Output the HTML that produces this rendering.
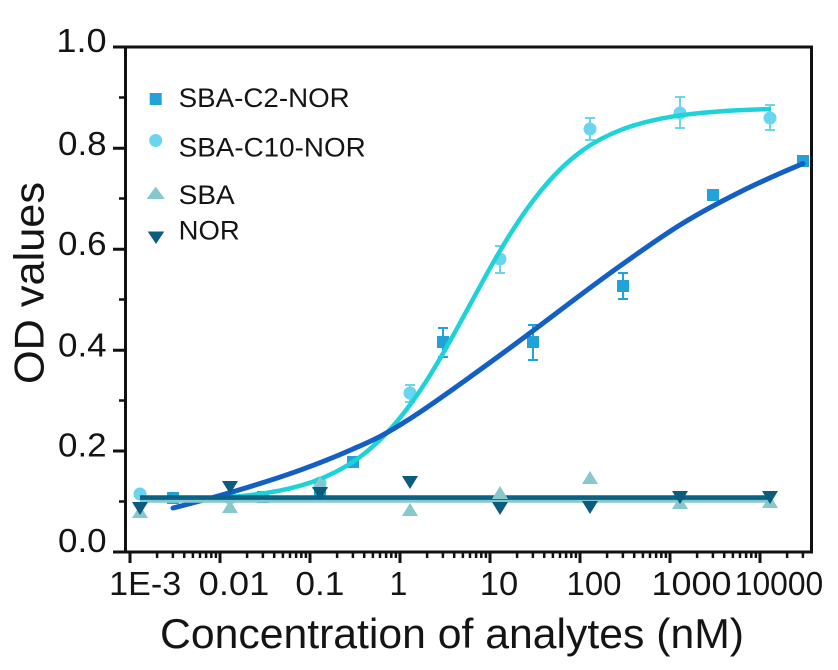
<!DOCTYPE html>
<html>
<head>
<meta charset="utf-8">
<style>
html,body{margin:0;padding:0;background:#ffffff;}
svg{display:block;}
text{font-family:"Liberation Sans",Arial,sans-serif;fill:#141414;}
</style>
</head>
<body>
<svg width="838" height="670" viewBox="0 0 838 670" xmlns="http://www.w3.org/2000/svg">
<rect x="0" y="0" width="838" height="670" fill="#ffffff"/>

<!-- ===== markers (drawn first, under lines) ===== -->
<!-- error bars C10 -->
<g stroke="#6ad5ee" stroke-width="2" fill="none">
  <path d="M410 385V402M405 385H415M405 402H415"/>
  <path d="M500 246V273M495 246H505M495 273H505"/>
  <path d="M590 118V140M585 118H595M585 140H595"/>
  <path d="M680 97V128M675 97H685M675 128H685"/>
  <path d="M770 105V130M765 105H775M765 130H775"/>
</g>
<!-- error bars C2 -->
<g stroke="#21a3da" stroke-width="2" fill="none">
  <path d="M443 328V357M438 328H448M438 357H448"/>
  <path d="M533 325V360M528 325H538M528 360H538"/>
  <path d="M623 273V299M618 273H628M618 299H628"/>
</g>

<!-- SBA-C2-NOR squares -->
<g fill="#21a3da">
  <rect x="167" y="492" width="12" height="12"/>
  <rect x="257" y="491" width="12" height="12"/>
  <rect x="314" y="486" width="12" height="12"/>
  <rect x="347" y="456" width="12" height="12"/>
  <rect x="437" y="336" width="12" height="12"/>
  <rect x="527" y="336" width="12" height="12"/>
  <rect x="617" y="280" width="12" height="12"/>
  <rect x="707" y="189" width="12" height="12"/>
  <rect x="797" y="155" width="12" height="12"/>
</g>
<!-- SBA-C10-NOR circles -->
<g fill="#6ad5ee">
  <circle cx="140" cy="494" r="6.5"/>
  <circle cx="230" cy="498" r="6.5"/>
  <circle cx="320" cy="483" r="6.5"/>
  <circle cx="410" cy="393" r="6.5"/>
  <circle cx="500" cy="259" r="6.5"/>
  <circle cx="590" cy="129" r="6.5"/>
  <circle cx="680" cy="113" r="6.5"/>
  <circle cx="770" cy="118" r="6.5"/>
</g>

<!-- ===== curves ===== -->
<path fill="none" stroke="#1dd3d8" stroke-width="4.5" stroke-linecap="round"
 d="M194.7 499.2
 C218.7 498.2 242.7 496.7 266.7 492.9
 C281.7 490.5 296.7 487.3 311.7 482.1
 C326.7 476.9 341.7 469.8 356.7 459.3
 C371.7 448.8 386.7 434.5 401.7 415.7
 C409.2 406.3 416.7 395.9 424.2 384.4
 C431.7 372.9 439.2 360.1 446.7 347.0
 C454.5 333.3 462.3 318.8 470.1 304.5
 C477.3 291.3 484.5 277.9 491.7 265.2
 C499.2 252.0 506.7 239.5 514.2 227.8
 C521.7 216.1 529.2 205.6 536.7 196.0
 C551.7 176.8 566.7 161.9 581.7 151.0
 C596.7 140.1 611.7 133.1 626.7 127.8
 C641.7 122.5 656.7 119.2 671.7 116.7
 C686.7 114.2 701.7 112.7 716.7 111.6
 C734.1 110.3 751.5 109.6 768.9 109.1"/>

<path fill="none" stroke="#135fc4" stroke-width="5" stroke-linecap="round"
 d="M173 508
 C192 503.25 211 498.1 230 492.6
 C253.3 485.8 276.7 478.6 300 470.2
 C317.7 463.8 335.3 456.8 353 449
 C362.7 444.7 372.3 440.7 382 435.4
 C409.7 420.2 437.3 400.5 465 380.6
 C486.7 365.0 508.3 349.3 530 333
 C560 310.5 590 287.3 620 266
 C640 251.8 660 237.4 680 225
 C700 212.6 720 202 740 192
 C761 181.5 782 172.4 803 163.6"/>

<!-- flat lines -->
<line x1="140" y1="500.3" x2="772" y2="500.3" stroke="#86c7cb" stroke-width="5"/>
<line x1="140" y1="497.6" x2="772" y2="497.6" stroke="#0b6287" stroke-width="4.6"/>

<!-- SBA up triangles -->
<g fill="#87c8cc">
  <polygon points="132,518 148,518 140,505"/>
  <polygon points="222,513 238,513 230,500"/>
  <polygon points="312,489 328,489 320,476"/>
  <polygon points="402,516 418,516 410,503"/>
  <polygon points="492,499 508,499 500,486"/>
  <polygon points="582,484 598,484 590,471"/>
  <polygon points="672,509 688,509 680,496"/>
  <polygon points="762,508 778,508 770,495"/>
</g>
<!-- NOR down triangles -->
<g fill="#0b5c7e">
  <polygon points="132,502 148,502 140,515"/>
  <polygon points="222,481 238,481 230,494"/>
  <polygon points="312,487 328,487 320,500"/>
  <polygon points="402,476 418,476 410,489"/>
  <polygon points="492,502 508,502 500,515"/>
  <polygon points="582,501 598,501 590,514"/>
  <polygon points="672,491 688,491 680,504"/>
  <polygon points="762,491 778,491 770,504"/>
</g>

<!-- ===== axes frame ===== -->
<g stroke="#111" fill="none">
  <line x1="113" y1="47" x2="813" y2="47" stroke-width="3"/>
  <line x1="811.5" y1="45.5" x2="811.5" y2="553.5" stroke-width="3"/>
  <line x1="113" y1="552" x2="813" y2="552" stroke-width="3"/>
  <line x1="125.5" y1="45.5" x2="125.5" y2="553.5" stroke-width="3"/>
  <!-- y major ticks -->
  <path stroke-width="3" d="M113 148.2H126M113 249.2H126M113 350.2H126M113 451H126"/>
  <!-- y minor ticks -->
  <path stroke-width="2.5" d="M119 97.5H126M119 198.5H126M119 299.5H126M119 400.5H126M119 501.5H126"/>
  <!-- x major ticks -->
  <path stroke-width="3" d="M130 552V563M220 552V563M310 552V563M400 552V563M490 552V563M580 552V563M670 552V563M760 552V563"/>
  <!-- x minor ticks -->
  <path stroke-width="2.5" d="
  M157.1 552V558M172.9 552V558M184.2 552V558M192.9 552V558M200 552V558M206.1 552V558M211.3 552V558M215.9 552V558
  M247.1 552V558M262.9 552V558M274.2 552V558M282.9 552V558M290 552V558M296.1 552V558M301.3 552V558M305.9 552V558
  M337.1 552V558M352.9 552V558M364.2 552V558M372.9 552V558M380 552V558M386.1 552V558M391.3 552V558M395.9 552V558
  M427.1 552V558M442.9 552V558M454.2 552V558M462.9 552V558M470 552V558M476.1 552V558M481.3 552V558M485.9 552V558
  M517.1 552V558M532.9 552V558M544.2 552V558M552.9 552V558M560 552V558M566.1 552V558M571.3 552V558M575.9 552V558
  M607.1 552V558M622.9 552V558M634.2 552V558M642.9 552V558M650 552V558M656.1 552V558M661.3 552V558M665.9 552V558
  M697.1 552V558M712.9 552V558M724.2 552V558M732.9 552V558M740 552V558M746.1 552V558M751.3 552V558M755.9 552V558
  M787.1 552V558M802.9 552V558"/>
</g>

<!-- y tick labels -->
<g font-size="33">
  <text x="56.4" y="52" textLength="50.2" lengthAdjust="spacingAndGlyphs">1.0</text>
  <text x="58" y="155" textLength="48.6" lengthAdjust="spacingAndGlyphs">0.8</text>
  <text x="58" y="255" textLength="48.6" lengthAdjust="spacingAndGlyphs">0.6</text>
  <text x="58" y="356.5" textLength="48.6" lengthAdjust="spacingAndGlyphs">0.4</text>
  <text x="58" y="456.5" textLength="48.6" lengthAdjust="spacingAndGlyphs">0.2</text>
  <text x="58" y="552" textLength="48.6" lengthAdjust="spacingAndGlyphs">0.0</text>
</g>

<!-- x tick labels -->
<g font-size="33">
  <text x="109.2" y="595" textLength="72" lengthAdjust="spacingAndGlyphs">1E-3</text>
  <text x="198.7" y="595" textLength="70.6" lengthAdjust="spacingAndGlyphs">0.01</text>
  <text x="295.4" y="595" textLength="49" lengthAdjust="spacingAndGlyphs">0.1</text>
  <text x="389.5" y="595" textLength="17.8" lengthAdjust="spacingAndGlyphs">1</text>
  <text x="479.8" y="595" textLength="38.4" lengthAdjust="spacingAndGlyphs">10</text>
  <text x="566.5" y="595" textLength="55" lengthAdjust="spacingAndGlyphs">100</text>
  <text x="651.5" y="595" textLength="80" lengthAdjust="spacingAndGlyphs">1000</text>
  <text x="734.8" y="595" textLength="88.4" lengthAdjust="spacingAndGlyphs">10000</text>
</g>

<!-- axis titles -->
<text x="160" y="648" font-size="42" textLength="584" lengthAdjust="spacingAndGlyphs">Concentration of analytes (nM)</text>
<text x="43.5" y="384" font-size="42" transform="rotate(-90 43.5 384)" textLength="202" lengthAdjust="spacingAndGlyphs">OD values</text>

<!-- legend -->
<rect x="149.7" y="93" width="12" height="12" fill="#21a3da"/>
<circle cx="155.7" cy="140.5" r="6.5" fill="#6ad5ee"/>
<polygon points="146.7,199 164.7,199 155.7,186.5" fill="#87c8cc"/>
<polygon points="147.7,231.5 164.3,231.5 156,244" fill="#0b5c7e"/>
<g font-size="27">
  <text x="178.7" y="107" textLength="171" lengthAdjust="spacingAndGlyphs">SBA-C2-NOR</text>
  <text x="178.7" y="156.7" textLength="187" lengthAdjust="spacingAndGlyphs">SBA-C10-NOR</text>
  <text x="178.7" y="204" textLength="56" lengthAdjust="spacingAndGlyphs">SBA</text>
  <text x="178.7" y="239.3" textLength="61" lengthAdjust="spacingAndGlyphs">NOR</text>
</g>
</svg>
</body>
</html>
